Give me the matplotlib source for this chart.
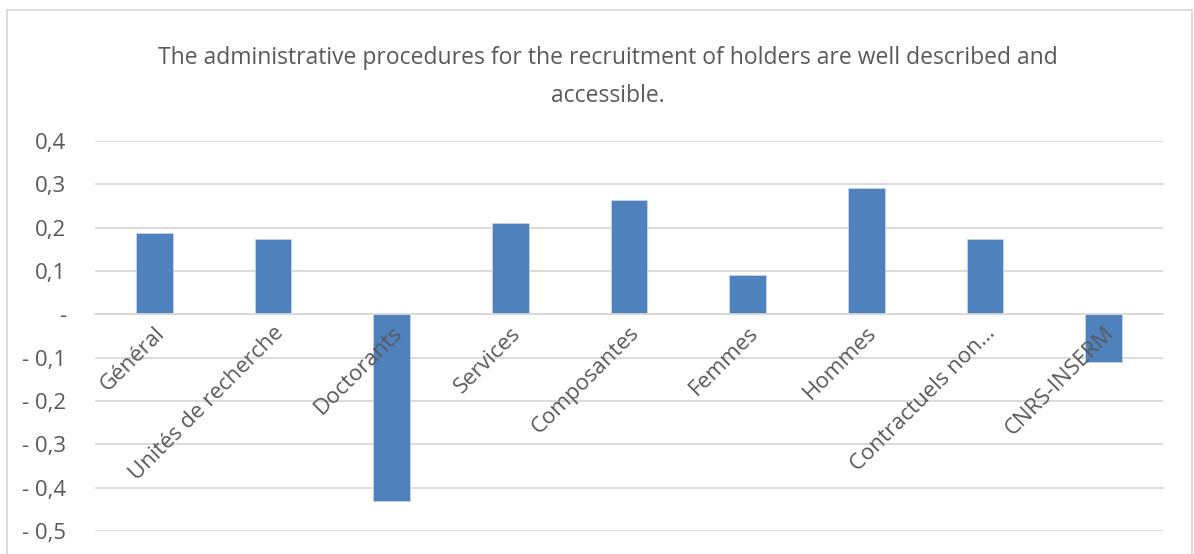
import matplotlib.pyplot as plt
from matplotlib.patches import Rectangle

categories = ["Général", "Unités de recherche", "Doctorants", "Services", "Composantes",
              "Femmes", "Hommes", "Contractuels non…", "CNRS-INSERM"]
values = [0.187, 0.173, -0.43, 0.21, 0.263, 0.09, 0.291, 0.173, -0.111]
yticks = [0.4, 0.3, 0.2, 0.1, 0.0, -0.1, -0.2, -0.3, -0.4, -0.5]
ytick_labels = ["0,4", "0,3", "0,2", "0,1", "-", "- 0,1", "- 0,2", "- 0,3", "- 0,4", "- 0,5"]
title = "The administrative procedures for the recruitment of holders are well described and\naccessible."

plt.rcParams['font.family'] = ['Open Sans', 'DejaVu Sans']
grey = "#595959"
fs = 16

fig = plt.figure(figsize=(11.94, 5.54), dpi=100)
ax = fig.add_axes([95/1194, 1 - 531/554, (1163 - 95)/1194, (531 - 141)/554])

# spine first, it resets the axis
ax.spines['bottom'].set_position(('data', 0))
ax.spines['bottom'].set_color("#d9d9d9")
ax.spines['bottom'].set_linewidth(1.3)
for s in ['top', 'right', 'left']:
    ax.spines[s].set_visible(False)

x = list(range(len(categories)))
for yv in yticks:
    ax.axhline(yv, color="#d9d9d9", linewidth=1.3, zorder=0.3)
ax.bar(x, values, width=0.31, color="#4f81bd", edgecolor="#c5d5ea", linewidth=0.6, zorder=1)

ax.set_xlim(-0.5, len(categories) - 0.5)
ax.set_ylim(-0.5, 0.4)
ax.set_yticks(yticks)
ax.set_yticklabels(ytick_labels, fontsize=fs, color=grey)
ax.tick_params(axis='y', length=0, pad=21)

ax.set_xticks(x)
ax.set_xticklabels(categories, rotation=45, ha='right', rotation_mode='anchor',
                   fontsize=fs, color=grey)
ax.tick_params(axis='x', length=0, pad=6)
ax.xaxis.set_zorder(3)

fig.text(608/1194, 1 - 77/554, title, ha='center', va='center', fontsize=16.5,
         color=grey, linespacing=1.8)

fig.patches.append(Rectangle((7/1194, -0.05), (1192 - 7)/1194, 1.05 - 10/554,
                             transform=fig.transFigure, fill=False,
                             edgecolor="#d9d9d9", linewidth=1.3))

fig.savefig("out.png", dpi=100)
